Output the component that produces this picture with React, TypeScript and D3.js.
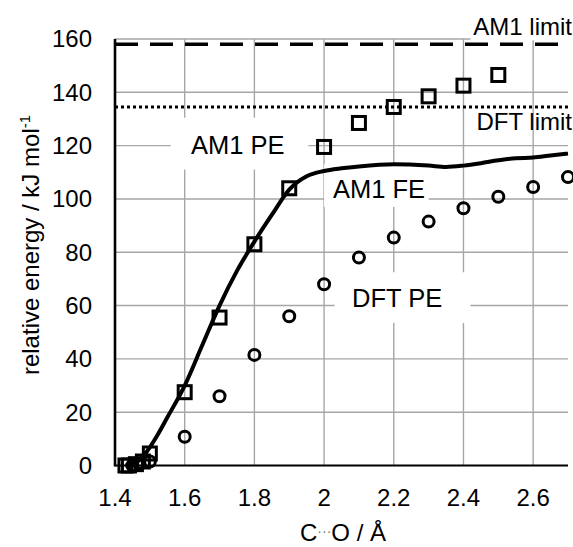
import React from "react";
import * as d3 from "d3";

// AM1 potential energy (squares)
const am1PeX = [1.43, 1.44, 1.46, 1.48, 1.5, 1.6, 1.7, 1.8, 1.9, 2.0, 2.1, 2.2, 2.3, 2.4, 2.5];
const am1PeY = [0, 0, 0.5, 1.5, 4.5, 27.5, 55.5, 83, 104, 119.5, 128.5, 134.5, 138.5, 142.5, 146.5];

// DFT potential energy (circles)
const dftPeX = [1.45, 1.47, 1.5, 1.6, 1.7, 1.8, 1.9, 2.0, 2.1, 2.2, 2.3, 2.4, 2.5, 2.6, 2.7];
const dftPeY = [0, 0.5, 1.5, 10.8, 26, 41.5, 56, 68, 78, 85.5, 91.5, 96.5, 100.8, 104.5, 108.2];

// AM1 free energy (solid line)
const am1FeX = [1.43, 1.45, 1.47, 1.49, 1.52, 1.55, 1.6, 1.65, 1.7, 1.75, 1.8, 1.85, 1.9, 1.95, 2.0, 2.05, 2.1, 2.2, 2.3, 2.35, 2.4, 2.45, 2.5, 2.55, 2.6, 2.65, 2.7];
const am1FeY = [0, 0.5, 2, 5, 11, 18, 30, 45, 60, 73, 84, 94, 103.5, 108.5, 110.5, 111.5, 112.2, 113, 112.5, 112, 112.5, 113.4, 114.5, 115.3, 115.5, 116.3, 117];

const am1Limit = 158;
const dftLimit = 134.5;

const xTicks = [1.4, 1.6, 1.8, 2.0, 2.2, 2.4, 2.6];
const yTicks = [0, 20, 40, 60, 80, 100, 120, 140, 160];

const font = "'Liberation Sans', Arial, sans-serif";

export default function App() {
  const width = 573;
  const height = 547;
  const left = 115;
  const right = 568;
  const top = 39;
  const bottom = 465.5;

  const x = d3.scaleLinear().domain([1.4, 2.7]).range([left, right]);
  const y = d3.scaleLinear().domain([0, 160]).range([bottom, top]);

  const feLine = d3
    .line<number>()
    .x((d, i) => x(am1FeX[i]))
    .y((d) => y(d))
    .curve(d3.curveMonotoneX);

  const gridColor = "#a6a6a6";

  // white boxes behind the in-plot labels
  const boxes = [
    { x0: 1.56, x1: 1.955, y0: 130.5, y1: 111 },
    { x0: 2.0, x1: 2.3, y0: 113, y1: 97 },
    { x0: 2.03, x1: 2.42, y0: 72.5, y1: 53.5 },
    { x0: 2.42, x1: 2.7, y0: 172, y1: 159.5 },
  ];

  const labels = [
    { text: "AM1 PE", x: 191, y: 154, anchor: "start", size: 25.5 },
    { text: "AM1 FE", x: 333, y: 198, anchor: "start", size: 25.5 },
    { text: "DFT PE", x: 352, y: 307, anchor: "start", size: 25.5 },
    { text: "AM1 limit", x: 572, y: 35, anchor: "end", size: 24 },
    { text: "DFT limit", x: 572, y: 130, anchor: "end", size: 24 },
  ];

  return (
    <svg
      width={width}
      height={height}
      style={{ position: "absolute", left: 0, top: 0, background: "#fff" }}
      fontFamily={font}
    >
      {/* gridlines */}
      {yTicks.slice(1).map((t) => (
        <line key={"gy" + t} x1={left} x2={right} y1={y(t)} y2={y(t)} stroke={gridColor} strokeWidth={1.4} />
      ))}
      {xTicks.slice(1).map((t) => (
        <line key={"gx" + t} x1={x(t)} x2={x(t)} y1={top} y2={bottom} stroke={gridColor} strokeWidth={1.4} />
      ))}

      {boxes.map((b, i) => (
        <rect
          key={"b" + i}
          x={x(b.x0)}
          y={y(b.y0)}
          width={x(b.x1) - x(b.x0)}
          height={y(b.y1) - y(b.y0)}
          fill="#fff"
        />
      ))}

      {/* axes */}
      <line x1={left} x2={left} y1={top} y2={bottom + 1} stroke="#000" strokeWidth={2.6} />
      <line x1={left} x2={right} y1={bottom} y2={bottom} stroke="#000" strokeWidth={2} />

      {/* limit lines */}
      <line x1={left} x2={right} y1={y(am1Limit)} y2={y(am1Limit)} stroke="#000" strokeWidth={3.5} strokeDasharray="23 12" />
      <line x1={left} x2={right} y1={y(dftLimit)} y2={y(dftLimit)} stroke="#000" strokeWidth={3} strokeDasharray="3 3" />

      {/* AM1 FE */}
      <path d={feLine(am1FeY) || ""} fill="none" stroke="#000" strokeWidth={4} strokeLinejoin="round" />

      {/* AM1 PE squares */}
      {am1PeY.map((v, i) => (
        <rect
          key={"s" + i}
          x={x(am1PeX[i]) - 6.5}
          y={y(v) - 6.5}
          width={13}
          height={13}
          fill="none"
          stroke="#000"
          strokeWidth={3}
        />
      ))}

      {/* DFT PE circles */}
      {dftPeY.map((v, i) => (
        <circle key={"c" + i} cx={x(dftPeX[i])} cy={y(v)} r={5.5} fill="none" stroke="#000" strokeWidth={3} />
      ))}

      {/* tick labels */}
      {yTicks.map((t) => (
        <text key={"ty" + t} x={92} y={y(t)} dy="0.35em" textAnchor="end" fontSize={24} fill="#000">
          {t}
        </text>
      ))}
      {xTicks.map((t) => (
        <text key={"tx" + t} x={x(t)} y={506} textAnchor="middle" fontSize={24} fill="#000">
          {d3.format("~g")(t)}
        </text>
      ))}

      {/* in-plot labels */}
      {labels.map((l) => (
        <text key={l.text} x={l.x} y={l.y} textAnchor={l.anchor} fontSize={l.size} fill="#000">
          {l.text}
        </text>
      ))}

      {/* axis titles */}
      <text x={343} y={541} textAnchor="middle" fontSize={24} fill="#000">
        C<tspan fill="#777" fontSize={14} dy={-5}>···</tspan>
        <tspan dy={5}>O / Å</tspan>
      </text>
      <text transform="translate(39,245) rotate(-90)" textAnchor="middle" fontSize={24} fill="#000">
        relative energy / kJ mol
        <tspan fontSize={15} dy={-9}>-1</tspan>
      </text>
    </svg>
  );
}
